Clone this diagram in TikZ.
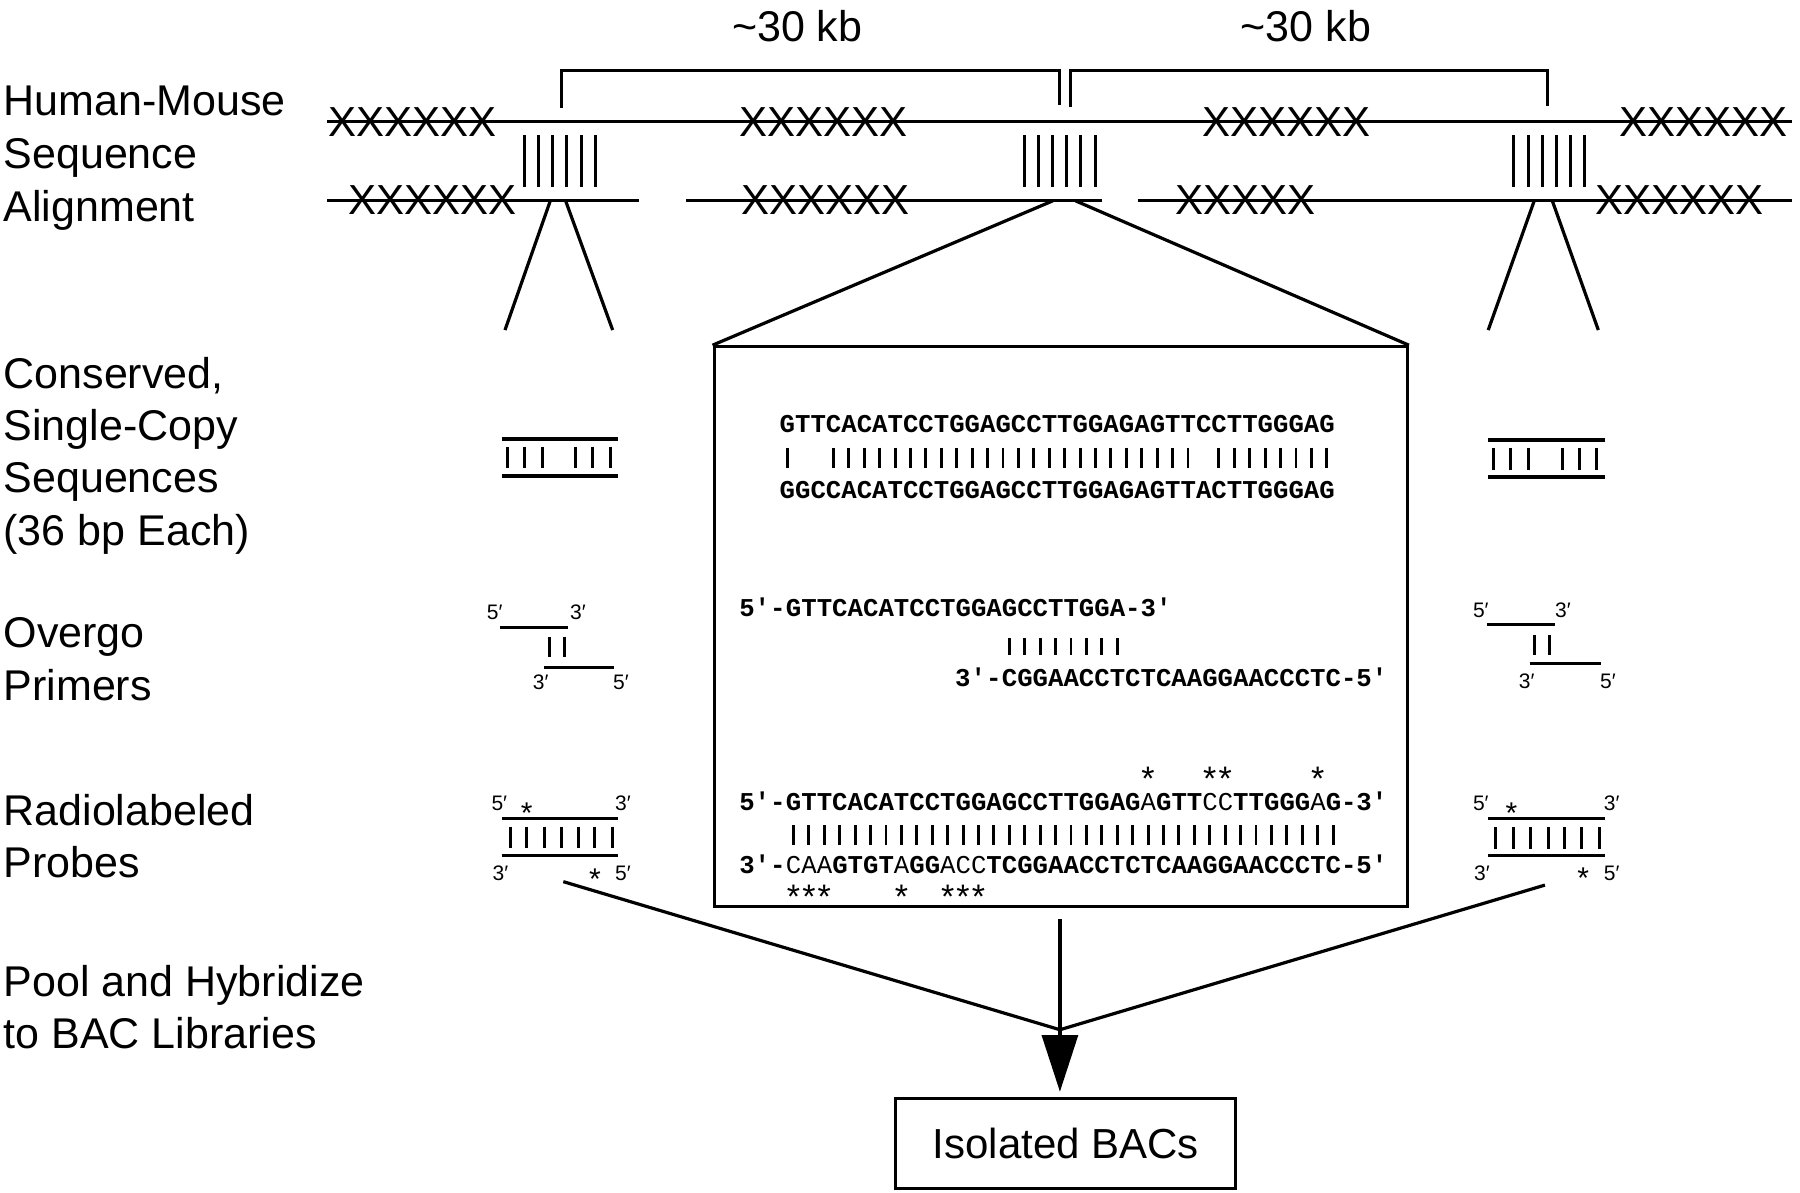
\documentclass[tikz,border=0pt]{standalone}
\usepackage{fontspec}
\setmainfont{Liberation Sans}
\newfontfamily\monof{Liberation Mono}
\usetikzlibrary{arrows.meta}
\begin{document}
\begin{tikzpicture}[x=1.14796pt,y=-1.14796pt,
  lbl/.style={anchor=base west,inner sep=0pt,font=\fontsize{43}{50}\selectfont},
  kb/.style={anchor=base,inner sep=0pt,font=\fontsize{43}{50}\selectfont},
  xx/.style={anchor=west,inner sep=0pt,font=\fontsize{42}{50}\selectfont},
  ln/.style={line width=3.2pt},
  tk/.style={line width=3pt},
  cs/.style={line width=4pt},
  bar/.style={line width=2.9pt},
  sm/.style={anchor=base west,inner sep=0pt,font=\fontsize{21}{25}\selectfont},
  smstar/.style={anchor=base,inner sep=0pt,font=\fontsize{30}{34}\selectfont},
  sq/.style={anchor=base west,inner sep=0pt,font=\fontsize{25.7}{30}\selectfont\monof\bfseries},
  sqe/.style={anchor=base east,inner sep=0pt,font=\fontsize{25.7}{30}\selectfont\monof\bfseries},
  bstar/.style={anchor=base,inner sep=0pt,font=\fontsize{34}{38}\selectfont},
  boxed/.style={draw,line width=3pt,inner sep=0pt}
]
\useasboundingbox (0,0) rectangle (1568,1039);
\def\xo{684.5}
\def\w{13.43}

% ---------- left labels ----------
\node[lbl] (l1a) at (3,101) {Human-Mouse};
\node[lbl] (l1b) at (3,147) {Sequence};
\node[lbl] (l1c) at (3,193) {Alignment};
\node[lbl] (l2a) at (3,338) {Conserved,};
\node[lbl] (l2b) at (3,384) {Single-Copy};
\node[lbl] (l2c) at (3,429) {Sequences};
\node[lbl] (l2d) at (3,475) {(36 bp Each)};
\node[lbl] (l3a) at (3,564) {Overgo};
\node[lbl] (l3b) at (3,610) {Primers};
\node[lbl] (l4a) at (3,719) {Radiolabeled};
\node[lbl] (l4b) at (3,764) {Probes};
\node[lbl] (l5a) at (3,868) {Pool and Hybridize};
\node[lbl] (l5b) at (3,913) {to BAC Libraries};

% ---------- top: spans ----------
\node[kb] (kbA) at (694.5,36) {\textasciitilde 30 kb};
\node[kb] (kbB) at (1137.6,36) {\textasciitilde 30 kb};
\draw[line width=2.6pt] (488.9,94) -- (488.9,61.6) -- (922.7,61.6) -- (922.7,91.5);
\draw[line width=2.6pt] (932.5,93) -- (932.5,61.6) -- (1348,61.6) -- (1348,92.3);

% ---------- sequence lines ----------
\draw[ln] (285,106) -- (1561,106);
\draw[ln] (285,174.5) -- (557,174.5);
\draw[ln] (598,174.5) -- (960,174.5);
\draw[ln] (991,174.5) -- (1561,174.5);

\node[xx] (xa1) at (285.7,106) {XXXXXX};
\node[xx] (xa2) at (643.6,106) {XXXXXX};
\node[xx] (xa3) at (1047,106) {XXXXXX};
\node[xx] (xa4) at (1410.5,106) {XXXXXX};
\node[xx] (xb1) at (303.6,174.5) {XXXXXX};
\node[xx] (xb2) at (645.7,174.5) {XXXXXX};
\node[xx] (xb3) at (1023.9,174.5) {XXXXX};
\node[xx] (xb4) at (1389.7,174.5) {XXXXXX};

\foreach \s in {457,892.4,1318.8}
  \foreach \k in {0,...,5}
    \draw[tk] ({\s+12.3*\k},118) -- ({\s+12.3*\k},163);

% ---------- fans ----------
\draw[ln] (479.1,175.7) -- (439.9,287.5);
\draw[ln] (493,175.7) -- (533.7,287.5);
\draw[ln] (1336.2,175.7) -- (1296.4,287.5);
\draw[ln] (1352.5,175.7) -- (1392.3,287.5);

\node[boxed,minimum width=693.4pt,minimum height=560.2pt] (bigbox) at (924,546) {};
\draw[ln] (917,175) -- (bigbox.north west);
\draw[ln] (937,175) -- (bigbox.north east);

% ---------- conserved symbols ----------
\draw[cs] (437,382) -- (538.6,382);
\draw[cs] (437,414.6) -- (538.6,414.6);
\foreach \x in {441.9,456.7,472.4,501.7,516.3,531.4}
  \draw[tk] (\x,389) -- (\x,408);
\draw[cs] (1296.4,383) -- (1398,383);
\draw[cs] (1296.4,415.8) -- (1398,415.8);
\foreach \x in {1301.4,1315.9,1331.9,1361.2,1375.7,1390.9}
  \draw[tk] (\x,390) -- (\x,409);

% ---------- box: alignment ----------
\node[sq] (alnA) at (679,377) {GTTCACATCCTGGAGCCTTGGAGAGTTCCTTGGGAG};
\foreach \i in {0,3,4,...,26,28,29,...,35}
  \draw[bar] ({679+\w*(\i+0.5)},390) -- ({679+\w*(\i+0.5)},408);
\node[sq] (alnB) at (679,434) {GGCCACATCCTGGAGCCTTGGAGAGTTACTTGGGAG};

% ---------- box: overgo primers ----------
\node[sqe] (ogAp) at (\xo,537) {5′-};
\node[sq] (ogA) at (\xo,537) {GTTCACATCCTGGAGCCTTGGA};
\node[sq] (ogAs) at ({\xo+22*\w},537) {-3′};
\foreach \i in {14,...,21}
  \draw[bar] ({\xo+\w*(\i+0.5)},556) -- ({\xo+\w*(\i+0.5)},571);
\node[sqe] (ogBp) at ({\xo+14*\w},598) {3′-};
\node[sq] (ogB) at ({\xo+14*\w},598) {CGGAACCTCTCAAGGAACCCTC};
\node[sq] (ogBs) at ({\xo+36*\w},598) {-5′};

% ---------- box: probe ----------
\foreach \i in {23,27,28,34}
  \node[bstar] (st\i) at ({\xo+\w*(\i+0.5)},689) {*};
\node[sqe] (prAp) at (\xo,705.6) {5′-};
\node[sq] (prA) at (\xo,705.6) {GTTCACATCCTGGAGCCTTGGAG\mdseries A\bfseries GTT\mdseries CC\bfseries TTGGG\mdseries A\bfseries G};
\node[sq] (prAs) at ({\xo+36*\w},705.6) {-3′};
\foreach \i in {0,...,35}
  \draw[bar] ({\xo+\w*(\i+0.5)},719) -- ({\xo+\w*(\i+0.5)},736);
\node[sqe] (prBp) at (\xo,760.7) {3′-};
\node[sq] (prB) at (\xo,760.7) {\mdseries CAA\bfseries GTGT\mdseries A\bfseries GG\mdseries ACC\bfseries TCGGAACCTCTCAAGGAACCCTC};
\node[sq] (prBs) at ({\xo+36*\w},760.7) {-5′};
\foreach \i in {0,1,2,7,10,11,12}
  \node[bstar] (sb\i) at ({\xo+\w*(\i+0.5)},791) {*};

% ---------- left overgo / probe ----------
\node[sm] (lo1) at (424,540) {5′};
\node[sm] (lo2) at (496.5,540) {3′};
\draw[tk] (435.5,546.8) -- (495,546.8);
\draw[tk] (478.5,554.6) -- (478.5,572.6);
\draw[tk] (491.3,554.6) -- (491.3,572.6);
\draw[tk] (474,581.3) -- (535,581.3);
\node[sm] (lo3) at (464,601) {3′};
\node[sm] (lo4) at (534,601) {5′};

\node[sm] (lp1) at (428,705.6) {5′};
\node[smstar] (lps1) at (458.8,717) {*};
\node[sm] (lp2) at (535.7,705.6) {3′};
\draw[tk] (437,712.8) -- (538.6,712.8);
\foreach \x in {444.3,458.8,473.9,488.7,503.7,518.3,533.7}
  \draw[tk] (\x,720) -- (\x,739);
\draw[tk] (437,745.4) -- (538.6,745.4);
\node[sm] (lp3) at (429,766.6) {3′};
\node[smstar] (lps2) at (518.3,775) {*};
\node[sm] (lp4) at (535.7,766.6) {5′};

% ---------- right overgo / probe ----------
\node[sm] (ro1) at (1283,538) {5′};
\node[sm] (ro2) at (1354.6,538) {3′};
\draw[tk] (1295,544.4) -- (1354.6,544.4);
\draw[tk] (1337,553) -- (1337,570.6);
\draw[tk] (1350.2,553) -- (1350.2,570.6);
\draw[tk] (1332.7,578.4) -- (1394.3,578.4);
\node[sm] (ro3) at (1323,599.5) {3′};
\node[sm] (ro4) at (1393.7,599.5) {5′};

\node[sm] (rp1) at (1283,705.6) {5′};
\node[smstar] (rps1) at (1316.7,717) {*};
\node[sm] (rp2) at (1397,705.6) {3′};
\draw[tk] (1296.4,713.4) -- (1398,713.4);
\foreach \x in {1303,1318.2,1333.4,1348.7,1363.2,1377.8,1393.1}
  \draw[tk] (\x,720.5) -- (\x,739.5);
\draw[tk] (1296.4,745.6) -- (1398,745.6);
\node[sm] (rp3) at (1284,766.6) {3′};
\node[smstar] (rps2) at (1379.2,774) {*};
\node[sm] (rp4) at (1397,766.6) {5′};

% ---------- pooling ----------
\node[boxed,minimum width=340.4pt,minimum height=89.9pt,font=\fontsize{42}{50}\selectfont] (bacs) at (928.4,995.8) {Isolated BACs};
\coordinate (lstart) at (490.7,768);
\coordinate (rstart) at (1345.8,771);
\coordinate (merge) at (923.3,897);
\draw[ln] (lstart) -- (merge) -- (rstart);
\draw[ln,-{Triangle[length=56.7pt,width=36pt]},shorten <=11pt,shorten >=5pt] (bigbox.south -| merge) -- (bacs.north -| merge);

\end{tikzpicture}
\end{document}
